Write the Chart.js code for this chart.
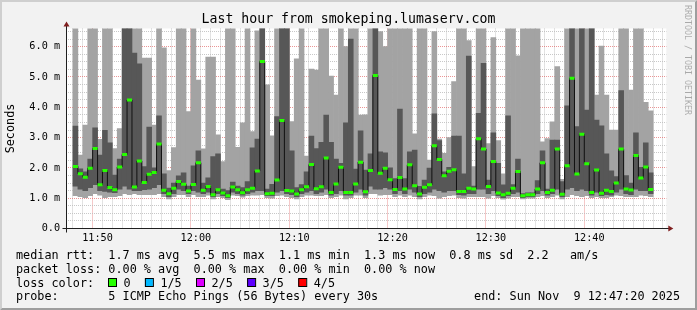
<!DOCTYPE html>
<html><head><meta charset="utf-8">
<script src="https://cdn.jsdelivr.net/npm/chart.js@4/dist/chart.umd.min.js"></script>
<style>html,body{margin:0;padding:0;background:#f2f2f2;}canvas{display:block;}</style>
</head><body>
<canvas id="c" width="697" height="310"></canvas>
<script>
// ---- data (bin start times, 30 s steps) ----
const binStarts = [
"11:47:30","11:48:00","11:48:30","11:49:00","11:49:30",
"11:50:00","11:50:30","11:51:00","11:51:30","11:52:00","11:52:30","11:53:00","11:53:30","11:54:00","11:54:30",
"11:55:00","11:55:30","11:56:00","11:56:30","11:57:00","11:57:30","11:58:00","11:58:30","11:59:00","11:59:30",
"12:00:00","12:00:30","12:01:00","12:01:30","12:02:00","12:02:30","12:03:00","12:03:30","12:04:00","12:04:30",
"12:05:00","12:05:30","12:06:00","12:06:30","12:07:00","12:07:30","12:08:00","12:08:30","12:09:00","12:09:30",
"12:10:00","12:10:30","12:11:00","12:11:30","12:12:00","12:12:30","12:13:00","12:13:30","12:14:00","12:14:30",
"12:15:00","12:15:30","12:16:00","12:16:30","12:17:00","12:17:30","12:18:00","12:18:30","12:19:00","12:19:30",
"12:20:00","12:20:30","12:21:00","12:21:30","12:22:00","12:22:30","12:23:00","12:23:30","12:24:00","12:24:30",
"12:25:00","12:25:30","12:26:00","12:26:30","12:27:00","12:27:30","12:28:00","12:28:30","12:29:00","12:29:30",
"12:30:00","12:30:30","12:31:00","12:31:30","12:32:00","12:32:30","12:33:00","12:33:30","12:34:00","12:34:30",
"12:35:00","12:35:30","12:36:00","12:36:30","12:37:00","12:37:30","12:38:00","12:38:30","12:39:00","12:39:30",
"12:40:00","12:40:30","12:41:00","12:41:30","12:42:00","12:42:30","12:43:00","12:43:30","12:44:00","12:44:30",
"12:45:00","12:45:30","12:46:00"];
// ping 1 (fastest) .. ping 5 (slowest), in ms
const pingMin = [1.08,1.05,1.02,1.08,1.15,1.10,1.02,1.05,1.05,1.08,1.15,1.12,1.15,1.12,1.12,1.12,1.12,1.15,1.05,0.98,
1.05,1.12,1.12,1.05,1.12,1.05,1.05,1.10,0.98,1.05,1.02,0.95,1.10,1.08,1.03,1.08,1.10,1.10,1.12,1.02,
1.00,1.08,1.10,1.05,1.02,0.98,1.05,1.10,1.10,1.08,1.08,1.12,1.02,1.05,1.10,0.98,1.02,1.10,1.10,1.02,
1.15,1.15,1.10,1.12,1.12,1.05,1.10,1.05,1.10,1.05,0.98,1.05,1.10,1.08,1.00,1.05,1.08,1.10,1.02,1.00,
1.05,1.05,1.05,1.05,1.00,1.08,1.02,0.97,1.00,1.05,1.05,0.98,1.00,1.00,1.05,1.08,1.02,1.05,1.10,0.98,
1.05,1.12,1.08,1.05,1.08,1.02,1.05,1.02,1.02,1.05,1.10,1.08,1.05,1.05,1.05,1.10,1.08,1.05];
const ping2 = [1.40,1.30,1.25,1.35,1.45,1.25,1.22,1.20,1.18,1.30,1.40,1.30,1.25,1.25,1.28,1.30,1.35,1.45,1.15,1.05,
1.15,1.30,1.25,1.15,1.25,1.20,1.15,1.20,1.05,1.15,1.08,1.02,1.20,1.15,1.10,1.15,1.20,1.25,1.25,1.08,
1.08,1.20,1.25,1.15,1.12,1.05,1.15,1.20,1.25,1.15,1.20,1.30,1.10,1.15,1.25,1.10,1.10,1.20,1.30,1.10,
1.40,1.30,1.30,1.35,1.30,1.15,1.25,1.15,1.30,1.20,1.05,1.15,1.20,1.30,1.25,1.20,1.25,1.25,1.12,1.10,
1.15,1.15,1.30,1.30,1.15,1.25,1.08,1.02,1.08,1.15,1.20,1.02,1.05,1.05,1.15,1.25,1.10,1.15,1.30,1.05,
1.30,1.35,1.25,1.30,1.25,1.10,1.20,1.08,1.12,1.10,1.20,1.30,1.15,1.12,1.30,1.25,1.25,1.15];
const pingMedian = [2.05,1.81,1.69,1.99,2.64,1.44,1.91,1.35,1.28,2.03,2.44,4.24,1.37,2.23,1.52,1.79,1.85,2.79,1.26,1.15,
1.33,1.55,1.46,1.24,1.45,2.17,1.26,1.39,1.11,1.28,1.17,1.08,1.37,1.28,1.18,1.28,1.33,1.90,5.51,1.15,
1.16,1.60,3.56,1.25,1.24,1.14,1.28,1.38,2.11,1.31,1.38,2.33,1.19,1.47,2.02,1.19,1.19,1.47,2.19,1.21,
1.91,5.05,1.82,1.99,1.61,1.29,1.68,1.30,2.10,1.41,1.14,1.36,1.44,2.73,2.28,1.74,1.89,1.94,1.22,1.22,
1.33,1.30,2.96,2.62,1.39,2.21,1.17,1.11,1.16,1.33,1.88,1.08,1.11,1.11,1.30,2.17,1.19,1.26,2.62,1.13,
2.07,4.96,1.80,3.11,2.14,1.19,1.93,1.16,1.26,1.22,1.50,2.62,1.30,1.27,2.41,1.67,2.03,1.29];
const ping4 = [3.38,1.97,1.87,2.29,3.32,2.42,3.24,2.83,1.76,2.29,7.0,7.0,5.79,5.43,2.04,3.35,2.00,3.72,1.80,1.33,
1.50,1.74,1.84,1.40,2.07,2.56,1.50,1.67,2.37,2.46,1.30,1.25,1.53,1.40,1.35,1.55,2.66,2.95,7.0,1.30,
1.46,3.69,7.0,7.0,2.56,1.35,1.45,1.87,3.05,2.64,2.84,3.74,2.84,2.29,2.15,3.49,6.25,1.96,3.22,1.93,
2.46,7.0,2.53,2.50,2.00,1.65,3.94,1.65,2.53,2.59,1.39,1.60,1.99,3.78,2.90,1.87,2.02,3.05,3.05,1.80,
5.69,1.40,3.80,5.45,1.60,3.16,2.15,1.44,3.72,1.45,2.29,1.15,1.18,1.18,1.58,2.56,1.30,2.92,2.92,1.55,
4.05,7.0,3.36,7.0,3.91,7.0,3.58,3.39,2.46,1.90,1.71,4.55,1.75,1.50,3.16,2.02,2.83,1.84];
const pingMax = [7.0,2.42,3.41,7.0,7.0,2.94,7.0,7.0,2.64,3.30,7.0,7.0,7.0,7.0,5.62,5.62,3.41,7.0,5.96,1.91,
2.67,7.0,7.0,3.86,7.0,4.90,2.63,5.66,5.66,3.09,2.21,7.0,7.0,2.68,3.49,7.0,3.20,6.52,7.0,4.74,
3.06,7.0,7.0,7.0,3.53,5.60,7.0,2.39,5.26,5.23,7.0,7.0,5.03,4.40,7.0,6.00,7.0,7.0,3.74,3.75,
7.0,7.0,6.50,6.00,7.0,7.0,7.0,7.0,7.0,3.12,7.0,7.0,2.26,6.50,2.95,2.48,3.00,4.85,7.0,7.0,
6.20,2.04,7.0,7.0,2.80,6.30,2.90,1.80,7.0,7.0,5.70,7.0,7.0,7.0,7.0,2.86,2.97,3.52,5.34,1.62,
7.0,7.0,7.0,7.0,7.0,7.0,4.40,6.02,4.40,3.25,3.25,7.0,7.0,4.57,7.0,7.0,4.16,3.88];

const axisStart = "11:47:20";
const axisEnd = "12:47:20";
const xTickTimes = ["11:50","12:00","12:10","12:20","12:30","12:40"];
const yTickValues = [0,1,2,3,4,5,6];
const yTickLabels = ["0.0","1.0 m","2.0 m","3.0 m","4.0 m","5.0 m","6.0 m"];
const titleText = "Last hour from smokeping.lumaserv.com";
const yAxisTitle = "Seconds";
const legendRows = [
  "median rtt:  1.7 ms avg  5.5 ms max  1.1 ms min  1.3 ms now  0.8 ms sd  2.2   am/s",
  "packet loss: 0.00 % avg  0.00 % max  0.00 % min  0.00 % now",
  "loss color:",
  "probe:       5 ICMP Echo Pings (56 Bytes) every 30s"
];
const endText = "end: Sun Nov  9 12:47:20 2025";
const lossLabels = ["0","1/5","2/5","3/5","4/5"];
const lossColors = ["#26ff00","#00b8ff","#dd00ff","#5e00ff","#ff0000"];
const watermark = "RRDTOOL / TOBI OETIKER";

// ---- helpers ----
const MONO = '"DejaVu Sans Mono", "Liberation Mono", monospace';
Chart.defaults.font.family = MONO;
const toMin = s => { const p = s.split(':').map(Number); return (p[0]-11)*60 + p[1] + (p[2]||0)/60; };
const halfStep = 0.25; // half of a 30 s bin, in minutes
const xs = binStarts.map(s => toMin(s) + halfStep);
const xMin = toMin(axisStart), xMax = toMin(axisEnd);
const xTickMins = xTickTimes.map(toMin);

const frame = {
  id: 'frame',
  beforeDraw(chart) {
    const {ctx, width: W, height: H, chartArea: a} = chart;
    ctx.save();
    ctx.fillStyle = '#f2f2f2'; ctx.fillRect(0, 0, W, H);
    ctx.fillStyle = '#cfcfcf';
    ctx.beginPath(); ctx.moveTo(0,H); ctx.lineTo(2,H-2); ctx.lineTo(2,2); ctx.lineTo(W-2,2); ctx.lineTo(W,0); ctx.lineTo(0,0); ctx.closePath(); ctx.fill();
    ctx.fillStyle = '#9e9e9e';
    ctx.beginPath(); ctx.moveTo(2,H-2); ctx.lineTo(W-2,H-2); ctx.lineTo(W-2,2); ctx.lineTo(W,0); ctx.lineTo(W,H); ctx.lineTo(0,H); ctx.closePath(); ctx.fill();
    ctx.fillStyle = '#ffffff';
    ctx.fillRect(a.left, a.top, a.right - a.left, a.bottom - a.top);
    ctx.restore();
  },
  afterDraw(chart) {
    const {ctx, chartArea: a} = chart;
    ctx.save();
    // axes
    const ax = Math.floor(a.left) + 0.5;
    ctx.strokeStyle = '#1f1f1f'; ctx.lineWidth = 1;
    ctx.beginPath();
    ctx.moveTo(ax - 4, a.bottom); ctx.lineTo(a.right + 4, a.bottom);
    ctx.moveTo(ax, a.bottom + 4); ctx.lineTo(ax, a.top - 4);
    ctx.stroke();
    ctx.fillStyle = '#801f1f';
    ctx.beginPath(); ctx.moveTo(a.right + 2, a.bottom - 3); ctx.lineTo(a.right + 2, a.bottom + 3); ctx.lineTo(a.right + 7, a.bottom); ctx.closePath(); ctx.fill();
    ctx.beginPath(); ctx.moveTo(ax - 3, a.top - 2); ctx.lineTo(ax + 3, a.top - 2); ctx.lineTo(ax, a.top - 7); ctx.closePath(); ctx.fill();
    // legend
    ctx.fillStyle = '#000';
    ctx.font = '11.8px ' + MONO;
    ctx.textBaseline = 'alphabetic';
    ctx.textAlign = 'left';
    const base = [258.5, 272.5, 286.5, 300.3];
    legendRows.forEach((t, i) => ctx.fillText(t, 16, base[i]));
    ctx.textAlign = 'right';
    ctx.fillText(endText, 680, base[3]);
    ctx.textAlign = 'left';
    let x = 108;
    lossLabels.forEach((lab, i) => {
      ctx.fillStyle = lossColors[i];
      ctx.fillRect(x, 278.5, 8, 8);
      ctx.strokeStyle = '#000'; ctx.lineWidth = 1;
      ctx.strokeRect(x + 0.5, 278.5, 8, 8);
      ctx.fillStyle = '#000';
      ctx.fillText(lab, x + 15.5, base[2]);
      x = x + 15.5 + ctx.measureText(lab).width + 14.3;
    });
    // watermark
    ctx.save();
    ctx.translate(687.5, 5);
    ctx.rotate(Math.PI / 2);
    ctx.font = '8.3px ' + MONO;
    ctx.fillStyle = 'rgba(0,0,0,0.3)';
    ctx.textBaseline = 'middle';
    ctx.fillText(watermark, 0, 0);
    ctx.restore();
    ctx.restore();
  }
};

const minorGrid = 'rgba(190,190,190,0.85)';
const majorGrid = 'rgba(222,79,79,0.6)';

new Chart(document.getElementById('c'), {
  data: {
    datasets: [
      { type: 'bar', label: 'ping 1-5', data: xs.map((x, i) => ({x, y: [pingMin[i], pingMax[i]]})),
        backgroundColor: '#a3a3a3', borderWidth: 0, grouped: false, barPercentage: 1, categoryPercentage: 1, order: 4 },
      { type: 'bar', label: 'ping 2-4', data: xs.map((x, i) => ({x, y: [ping2[i], ping4[i]]})),
        backgroundColor: '#575757', borderWidth: 0, grouped: false, barPercentage: 1, categoryPercentage: 1, order: 3 },
      { type: 'line', label: 'median step', data: xs.map((x, i) => ({x, y: pingMedian[i]})),
        stepped: 'middle', borderColor: '#111', borderWidth: 1, pointRadius: 0, fill: false, order: 2 },
      { type: 'line', label: 'median rtt', data: xs.map((x, i) => ({x, y: pingMedian[i]})),
        showLine: false, pointStyle: 'line', pointRadius: 2.5, pointHoverRadius: 2.5, pointBorderWidth: 3,
        pointBorderColor: lossColors[0], pointBackgroundColor: lossColors[0], order: 1 }
    ]
  },
  options: {
    responsive: false, animation: false, devicePixelRatio: 1,
    events: [],
    layout: { padding: 0 },
    plugins: {
      legend: { display: false }, tooltip: { enabled: false },
      title: { display: true, text: titleText, color: '#000',
        font: { family: MONO, size: 13.2, weight: 'normal' }, padding: { top: 11.5, bottom: 1.16 } }
    },
    scales: {
      x: {
        type: 'linear', position: 'bottom', min: xMin, max: xMax, z: 1,
        afterBuildTicks: s => { const t = []; for (let m = Math.ceil(xMin); m <= Math.floor(xMax); m++) t.push({value: m}); s.ticks = t; },
        afterFit: s => { s.height = 81.5; },
        grid: { drawTicks: false, lineWidth: 1, color: c => (c.tick && xTickMins.some(v => Math.abs(v - c.tick.value) < 1e-6)) ? majorGrid : minorGrid },
        border: { display: false, dash: [1, 1] },
        ticks: { autoSkip: false, maxRotation: 0, minRotation: 0, padding: 4, color: '#000', font: { size: 10.2 },
          callback: v => { const i = xTickMins.findIndex(m => Math.abs(m - v) < 1e-6); return i >= 0 ? xTickTimes[i] : ''; } }
      },
      y: {
        type: 'linear', position: 'left', min: 0, max: 6.6, z: 1,
        afterBuildTicks: s => { const t = []; for (let k = 0; k * 0.25 <= 6.6; k++) t.push({value: k * 0.25}); s.ticks = t; },
        afterFit: s => { s.width = 66.3333; },
        grid: { drawTicks: false, lineWidth: 1, color: c => (c.tick && yTickValues.includes(c.tick.value)) ? majorGrid : minorGrid },
        border: { display: false, dash: [1, 1] },
        ticks: { autoSkip: false, padding: 6.3, color: '#000', font: { size: 10.2 },
          callback: v => { const i = yTickValues.indexOf(v); return i >= 0 ? yTickLabels[i] : ''; } },
        title: { display: true, text: yAxisTitle, color: '#000', font: { size: 11.8 }, padding: { top: 4, bottom: 0 } }
      },
      yRight: {
        type: 'linear', position: 'right', display: true,
        afterFit: s => { s.width = 30.6667; },
        grid: { display: false }, border: { display: false }, ticks: { display: false }
      }
    }
  },
  plugins: [frame]
});
</script>
</body></html>
